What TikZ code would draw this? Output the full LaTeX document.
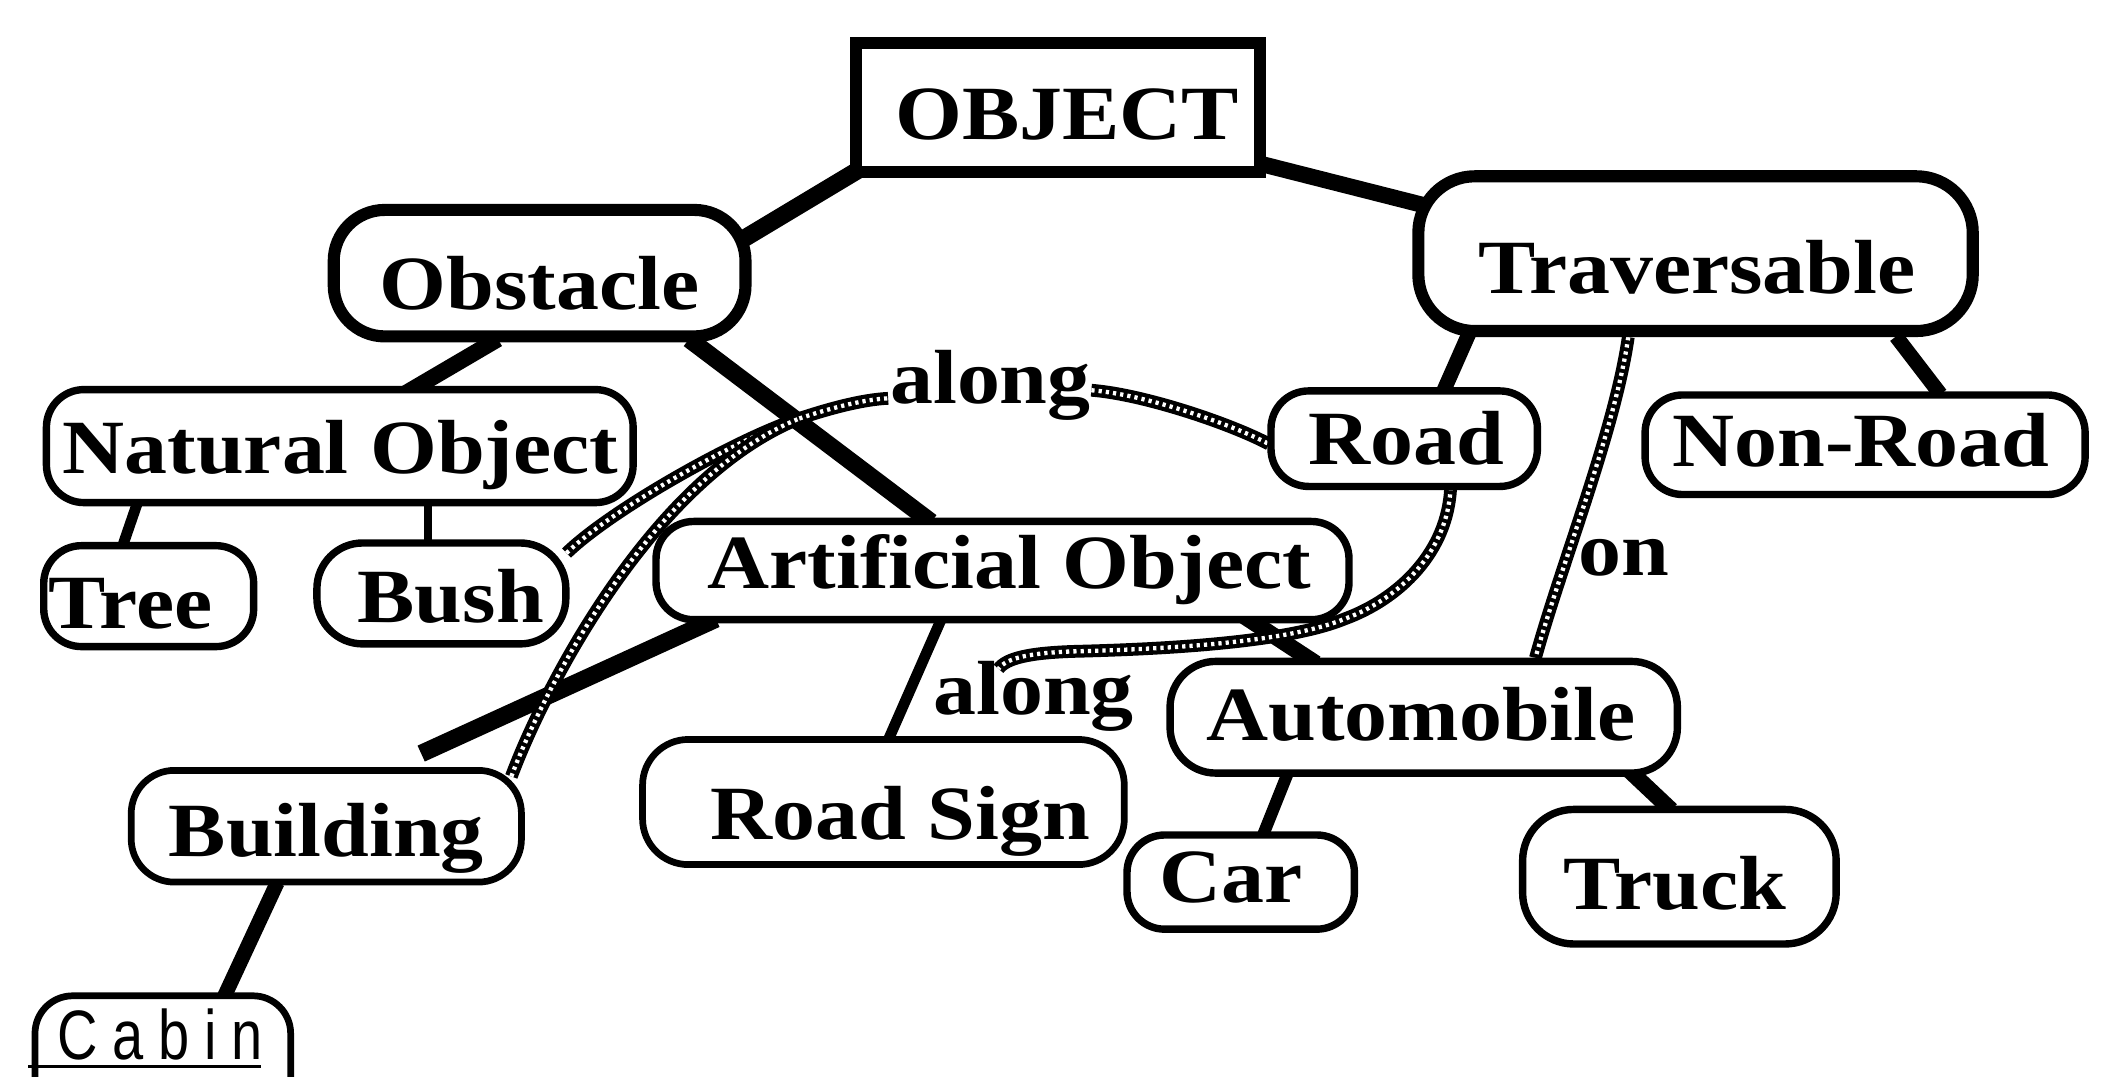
\documentclass[tikz,border=0pt]{standalone}
\usepackage{fontspec}
\setmainfont{Liberation Serif}
\newfontfamily\labelfont[FakeStretch=1.12]{Liberation Serif}
\newfontfamily\cabinfont[LetterSpace=21,FakeStretch=0.8]{Liberation Sans}
\usetikzlibrary{calc}
\pgfdeclarelayer{links}
\pgfdeclarelayer{paper}
\pgfsetlayers{paper,links,main}
% shift the text inside a box: #1 to the right, #2 downwards (in pt)
\newcommand\placetext[3]{\hspace*{#1pt}\raisebox{-#2pt}{#3}\hspace*{-#1pt}}
\tikzset{
  labeltext/.style={text height=38pt, text depth=0pt,
    font=\labelfont\bfseries\fontsize{57}{60}\selectfont},
  box/.style={labeltext, draw, fill=white, rectangle, rounded corners=28pt,
    line width=5.5pt, inner sep=0pt},
  rel/.style={labeltext, inner sep=0pt},
  link/.style={line width=12.5pt},
  thinlink/.style={line width=8pt},
  rope/.style={line width=9.5pt, draw=black,
    postaction={draw=white, line width=3.2pt, dash pattern=on 2.4pt off 3pt}}
}
\begin{document}
\begin{tikzpicture}[x=1pt,y=-1pt]
\begin{pgfonlayer}{paper}
  \fill[white] (0,0) rectangle (1568,800);
\end{pgfonlayer}
\useasboundingbox (0,0) rectangle (1568,800);

% the class hierarchy
\node[box, rounded corners=0pt, line width=9pt, minimum width=300pt, minimum height=96pt]
  (object) at (786,80) {\placetext{7}{4.5}{OBJECT}};
\node[box, rounded corners=38pt, line width=9pt, minimum width=306pt, minimum height=94pt]
  (obstacle) at (401,203) {\placetext{0}{8}{Obstacle}};
\node[box, rounded corners=42pt, line width=9pt, minimum width=412pt, minimum height=115pt]
  (traversable) at (1260,188.5) {\placetext{1}{10.5}{Traversable}};
\node[box, minimum width=436pt, minimum height=84pt]
  (natural) at (252.5,331.5) {\placetext{0.5}{1.5}{Natural Object}};
\node[box, minimum width=156pt, minimum height=75pt]
  (tree) at (110.5,443) {\placetext{-13.5}{5}{Tree}};
\node[box, rounded corners=34pt, minimum width=185pt, minimum height=75pt]
  (bush) at (328,441) {\placetext{7}{2.5}{Bush}};
\node[box, minimum width=515pt, minimum height=73pt]
  (artificial) at (745,424) {\placetext{5}{-6}{Artificial Object}};
\node[box, minimum width=198pt, minimum height=71pt]
  (road) at (1043.5,326) {\placetext{1.5}{0.5}{Road}};
\node[box, minimum width=327pt, minimum height=74pt]
  (nonroad) at (1386,330.5) {\placetext{-3}{-2.5}{Non-Road}};
\node[box, rounded corners=34pt, minimum width=377pt, minimum height=83pt]
  (automobile) at (1058,533) {\placetext{-2}{-1.5}{Automobile}};
\node[box, rounded corners=34pt, line width=5pt, minimum width=358pt, minimum height=93pt]
  (roadsign) at (656.5,596) {\placetext{12.5}{8.5}{Road Sign}};
\node[box, rounded corners=32pt, line width=5pt, minimum width=290pt, minimum height=83pt]
  (building) at (242.5,614) {\placetext{0}{3.5}{Building}};
\node[box, minimum width=169pt, minimum height=70pt]
  (car) at (922,655.5) {\placetext{-7.5}{-3.5}{Car}};
\node[box, rounded corners=38pt, minimum width=233pt, minimum height=100pt]
  (truck) at (1248,651.5) {\placetext{-3.5}{5.5}{Truck}};
\node[box, line width=5pt, minimum width=190pt, minimum height=96pt]
  (cabin) at (121,788) {\placetext{-2}{-20}{\cabinfont\mdseries\fontsize{52}{54}\selectfont
    \makebox[0pt][l]{\hspace*{-22pt}\rule[-7pt]{173pt}{2.6pt}}Cabin}};

% relation labels
\node[rel] (along1) at (736,281) {along};
\node[rel] (along2) at (768,512) {along};
\node[rel] (on) at (1207,409) {on};
\coordinate (merge) at (594,311);

\begin{pgfonlayer}{links}
  % is-a links
  \draw[link, line width=13pt] ($(object)+(-141,42)$) -- ($(obstacle)+(144,-21)$);
  \draw[link, line width=12pt] ($(object)+(144,40)$) -- ($(traversable)+(-192,-33.5)$);
  \draw[link, line width=12pt] ($(obstacle)+(-31,49)$) -- ($(natural)+(42.5,-35.5)$);
  \draw[link, line width=13pt] ($(obstacle)+(111,49)$) -- ($(artificial)+(-53,-36)$);
  \draw[thinlink] ($(natural)+(-150.5,42.5)$) -- ($(tree)+(-19.5,-37)$);
  \draw[line width=6pt] ($(natural)+(65.5,40.5)$) -- ($(bush)+(-10,-37)$);
  \draw[link, line width=11pt] ($(traversable)+(-168,58.5)$) -- ($(road)+(29.5,-36)$);
  \draw[link, line width=11pt] ($(traversable)+(149,61.5)$) -- ($(nonroad)+(56,-37.5)$);
  \draw[link, line width=13pt] ($(artificial)+(-213,36)$) -- ($(building)+(70.5,-54)$);
  \draw[thinlink] ($(artificial)+(-45,35)$) -- ($(roadsign)+(3.5,-46)$);
  \draw[link, line width=12pt] ($(artificial)+(175,31)$) -- ($(automobile)+(-80,-40)$);
  \draw[link, line width=9pt] ($(automobile)+(-100,39)$) -- ($(car)+(16,-33.5)$);
  \draw[link, line width=12pt] ($(automobile)+(149,36)$) -- ($(truck)+(-6,-49.5)$);
  \draw[link, line width=11pt] ($(building)+(-36.5,42)$) -- ($(cabin)+(45,-46)$);

  % relations between classes
  \draw[rope] ($(bush)+(93,-30)$) .. controls (455,378) and (550,325) .. (merge);
  \draw[rope] ($(building)+(137.5,-37)$) .. controls (405,510) and (485,355) .. (merge);
  \draw[rope] (merge) .. controls (615,304) and (640,297) .. ($(along1)+(-76,15)$);
  \draw[rope] ($(along1)+(75,9)$) .. controls (850,293) and (915,315) .. ($(road)+(-100.5,4)$);
  \draw[rope] ($(road)+(34.5,36)$) .. controls (1076,410) and (1040,445) .. (999,460)
    .. controls (960,476) and (880,482) .. (800,484)
    .. controls (765,485) and (748,489) .. ($(along2)+(-26,-15)$);
  \draw[rope] ($(traversable)+(-50,62)$) .. controls (1200,320) and (1160,420) .. ($(automobile)+(83,-44)$);
\end{pgfonlayer}
\end{tikzpicture}
\end{document}
